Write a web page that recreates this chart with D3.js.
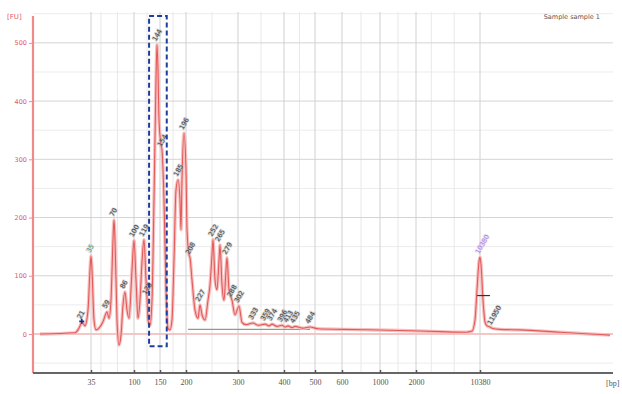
<!DOCTYPE html>
<html>
<head>
<meta charset="utf-8">
<script src="https://cdn.jsdelivr.net/npm/d3@7"></script>
<style>
  html, body { margin: 0; padding: 0; background: #fff; }
  svg { display: block; }
</style>
</head>
<body>
<svg id="chart" width="622" height="394"></svg>
<script>
// Ladder: fragment sizes (bp) and their migration times (s)
const ladderBp   = [35, 100, 150, 200, 300, 400, 500, 600, 1000, 2000, 10380];
const ladderTime = [24.8, 29.1, 31.7, 34.3, 39.5, 44.1, 47.2, 49.9, 53.7, 57.3, 63.7];
const minorBp    = [50, 75, 125, 175, 250, 350, 450, 800, 1500, 4000, 7000];

// Fluorescence axis ticks
const fuTicks = [0, 100, 200, 300, 400, 500];

// Electropherogram trace: migration time (s) and fluorescence (FU)
const traceTime = [19.7, 23.2, 23.6, 23.9, 24.2, 24.5, 24.7, 24.8, 24.9, 25.1, 25.3, 25.6, 26.0, 26.4, 26.6, 26.8,
  27.0, 27.1, 27.2, 27.4, 27.6, 27.8, 28.0, 28.2, 28.4, 28.6, 28.9, 29.1, 29.3, 29.5, 29.7, 29.9, 30.1, 30.3,
  30.4, 30.5, 30.7, 30.9, 31.1, 31.3, 31.4, 31.5, 31.6, 31.8, 31.9, 32.1, 32.3, 32.5, 32.7, 32.9, 33.1, 33.3,
  33.5, 33.7, 33.8, 33.9, 34.1, 34.3, 34.4, 34.6, 34.7, 34.9, 35.2, 35.5, 35.7, 35.9, 36.2, 36.5, 36.7, 36.9,
  37.0, 37.2, 37.4, 37.6, 37.7, 37.9, 38.1, 38.3, 38.4, 38.6, 38.9, 39.2, 39.6, 39.9, 40.3, 41.0, 41.5, 42.2,
  42.6, 42.9, 43.4, 43.9, 44.2, 44.5, 44.9, 45.2, 46.0, 46.7, 47.5, 50.0, 55.7, 59.7, 62.3, 62.9, 63.2, 63.4,
  63.6, 63.7, 63.8, 64.0, 64.2, 64.4, 64.7, 64.9, 65.7, 67.7, 71.7, 74.7, 76.7];
const traceFU = [0, 2, 10, 20, 14, 41, 110, 134, 110, 24, 7, 10, 21, 38, 27, 58,
  162, 196, 162, 24, -19, -2, 50, 72, 41, 27, 110, 161, 93, 27, 58, 124, 162, 93,
  62, 24, 15, 58, 230, 436, 497, 454, 368, 325, 316, 230, 76, 10, 7, 24, 127, 247,
  265, 230, 179, 265, 345, 282, 179, 136, 131, 93, 41, 27, 50, 33, 24, 58, 84, 136,
  162, 93, 76, 127, 153, 84, 58, 110, 131, 76, 58, 33, 48, 20, 16, 19, 15, 17,
  14, 17, 13, 15, 12, 14, 11, 13, 10, 12, 9, 8, 6, 4, 3, 5, 24, 76,
  124, 132, 119, 58, 21, 14, 12, 10, 8, 7, 3, 0, -2];

// Called peaks: size (bp) and height (FU)
const peakBp = [21, 59, 70, 86, 100, 119, 125, 144, 154, 185, 196, 208, 227, 252, 265, 279, 288, 302,
  333, 359, 374, 396, 413, 435, 484, 11950];
const peakFU = [20, 38, 196, 72, 161, 162, 62, 497, 316, 265, 345, 131, 50, 162, 153, 131, 58, 48,
  19, 17, 17, 15, 14, 13, 12, 10];

// Lower and upper markers
const markerBp = [35, 10380];
const markerFU = [134, 132];

// Upper marker half-height width (bp) and level (FU)
const upperHalfBp = [10000, 11690];
const upperHalfFU = 66;

// Smear region (bp) and its baseline (FU)
const regionBp = [204, 484];
const regionFU = 8;

// Highlighted fragment window (bp) and FU span
const highlightBp = [129, 163];
const highlightFU = [-21, 546];

const sampleName = "Sample sample 1";

// ---- scales ----
const svg = d3.select("#chart");
const plotL = 33, plotR = 613, plotT = 12, plotB = 373;

const xTime = d3.scaleLinear().domain([19, 77]).range([plotL, plotR]);
const bpToTime = d3.scaleLinear().domain(ladderBp).range(ladderTime);
const xBp = bp => xTime(bpToTime(bp));
const y = d3.scaleLinear().domain([-67, 553]).range([plotB, plotT]);

// ---- grid ----
const grid = svg.append("g");
const minorFU = d3.range(-50, 551, 50).filter(v => v % 100 !== 0);
grid.selectAll("line.hminor").data(minorFU).join("line")
  .attr("x1", plotL).attr("x2", plotR)
  .attr("y1", d => y(d)).attr("y2", d => y(d))
  .attr("stroke", "#ececec").attr("stroke-width", 1);
grid.selectAll("line.vminor").data(minorBp).join("line")
  .attr("x1", d => xBp(d)).attr("x2", d => xBp(d))
  .attr("y1", plotT).attr("y2", plotB)
  .attr("stroke", "#e8e8e8").attr("stroke-width", 1);
grid.selectAll("line.hmajor").data(fuTicks).join("line")
  .attr("x1", plotL).attr("x2", plotR)
  .attr("y1", d => y(d)).attr("y2", d => y(d))
  .attr("stroke", d => d === 0 ? "#f1b3b3" : "#d4d4d4").attr("stroke-width", d => d === 0 ? 1.5 : 1);
grid.selectAll("line.vmajor").data(ladderBp).join("line")
  .attr("x1", d => xBp(d)).attr("x2", d => xBp(d))
  .attr("y1", plotT).attr("y2", plotB)
  .attr("stroke", "#d0d0d0").attr("stroke-width", 1);

// ---- axes ----
const yAxis = d3.axisLeft(y).tickValues(fuTicks).tickSize(4).tickPadding(2);
const gy = svg.append("g").attr("transform", `translate(${plotL},0)`).call(yAxis);
gy.select(".domain").attr("stroke", "#ef8a8a").attr("stroke-width", 2.2)
  .attr("d", `M0,${plotT + 4}V${plotB}`);
gy.selectAll(".tick line").attr("stroke", "#ef8a8a");
gy.selectAll(".tick text").attr("fill", "#e4555e")
  .style("font-family", "DejaVu Sans").style("font-size", "6.5px");

const xAxis = d3.axisBottom(d3.scaleLinear().domain(ladderBp).range(ladderBp.map(xBp)))
  .tickValues(ladderBp).tickFormat(d3.format("d")).tickSize(-3).tickPadding(6);
const gx = svg.append("g").attr("transform", `translate(0,${plotB})`).call(xAxis);
gx.select(".domain").attr("stroke", "#666").attr("stroke-width", 2)
  .attr("d", `M${plotL},0H${plotR}`);
gx.selectAll(".tick line").attr("stroke", "#555").attr("stroke-width", 1.5);
gx.selectAll(".tick text").attr("fill", "#555")
  .style("font-family", "Liberation Serif").style("font-size", "8px");

svg.append("text").attr("x", 7).attr("y", 19).text("[FU]")
  .attr("fill", "#e4555e").style("font-family", "DejaVu Sans").style("font-size", "7px");
svg.append("text").attr("x", 606).attr("y", 386).text("[bp]")
  .attr("fill", "#555").style("font-family", "Liberation Serif").style("font-size", "8px");
svg.append("text").attr("x", 600).attr("y", 19).attr("text-anchor", "end").text(sampleName)
  .attr("fill", "#555").style("font-family", "DejaVu Sans").style("font-size", "6.5px");

// ---- region baseline ----
svg.append("line")
  .attr("x1", xBp(regionBp[0])).attr("x2", xBp(regionBp[1]))
  .attr("y1", y(regionFU)).attr("y2", y(regionFU))
  .attr("stroke", "#8e9c88").attr("stroke-width", 1.2);

// ---- trace ----
const pts = traceTime.map((t, i) => [t, traceFU[i]]);
const line = d3.line().x(d => xTime(d[0])).y(d => y(d[1])).curve(d3.curveMonotoneX);
svg.append("path").datum(pts).attr("d", line)
  .attr("fill", "none").attr("stroke", "#f7c0c0").attr("stroke-width", 3.4)
  .attr("stroke-linejoin", "round");
svg.append("path").datum(pts).attr("d", line)
  .attr("fill", "none").attr("stroke", "#e35a5a").attr("stroke-width", 1.1)
  .attr("stroke-linejoin", "round");

// upper marker half-height bar
svg.append("line")
  .attr("x1", xBp(upperHalfBp[0])).attr("x2", xBp(upperHalfBp[1]))
  .attr("y1", y(upperHalfFU)).attr("y2", y(upperHalfFU))
  .attr("stroke", "#333").attr("stroke-width", 1.2);

// ---- peak labels ----
const labelStyle = sel => sel
  .attr("text-anchor", "start")
  .style("font-family", "DejaVu Sans").style("font-size", "6.5px")
  .attr("stroke", "rgba(170,170,170,0.55)").attr("stroke-width", 1.6)
  .style("paint-order", "stroke");

svg.append("g").selectAll("text").data(peakBp).join("text")
  .attr("transform", (d, i) => `translate(${xBp(d) - 1},${y(peakFU[i]) - 3}) rotate(-60)`)
  .text(d => d3.format("d")(d))
  .attr("fill", "#3a3a3a")
  .call(labelStyle);

const markerColors = ["#3a9a5a", "#b27ae6"];
svg.append("g").selectAll("text").data(markerBp).join("text")
  .attr("transform", (d, i) => `translate(${xBp(d) - 1},${y(markerFU[i]) - 3}) rotate(-60)`)
  .text(d => d3.format("d")(d))
  .attr("fill", (d, i) => markerColors[i])
  .call(labelStyle)
  .attr("stroke", "rgba(210,200,230,0.5)");

// lower-region start symbol
svg.append("path")
  .attr("d", d3.symbol(d3.symbolCross, 14)())
  .attr("transform", `translate(${xBp(peakBp[0])},${y(peakFU[0]) - 1})`)
  .attr("fill", "#1b2f8a");

// ---- highlighted window ----
svg.append("rect")
  .attr("x", xBp(highlightBp[0])).attr("y", y(highlightFU[1]))
  .attr("width", xBp(highlightBp[1]) - xBp(highlightBp[0]))
  .attr("height", y(highlightFU[0]) - y(highlightFU[1]))
  .attr("fill", "none").attr("stroke", "#1f3f9f").attr("stroke-width", 2)
  .attr("stroke-dasharray", "5,3");
</script>
</body>
</html>
